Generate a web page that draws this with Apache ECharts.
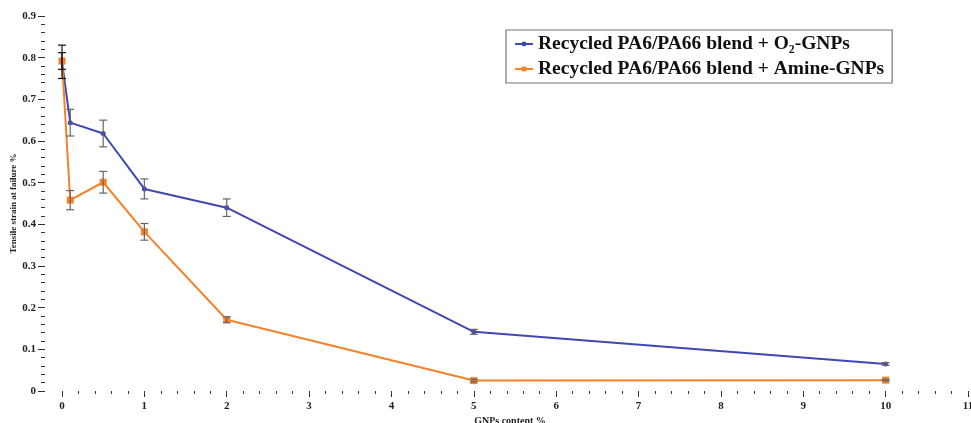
<!DOCTYPE html>
<html>
<head>
<meta charset="utf-8">
<script src="https://cdn.jsdelivr.net/npm/echarts@6/dist/echarts.min.js"></script>
<style>
html, body { margin: 0; padding: 0; background: #fff; }
#chart { width: 971px; height: 423px; }
</style>
</head>
<body>
<div id="chart"></div>
<script>
// GNPs content (%)
var gnpContent = [0, 0.1, 0.5, 1, 2, 5, 10];
// O2-GNPs series
var o2Strain = [0.79, 0.644, 0.618, 0.485, 0.44, 0.142, 0.065];
var o2Error = [0.04, 0.032, 0.032, 0.024, 0.021, 0.006, 0.003];
// Amine-GNPs series
var amineStrain = [0.792, 0.458, 0.501, 0.382, 0.171, 0.025, 0.026];
var amineError = [0.02, 0.023, 0.026, 0.02, 0.007, 0.003, 0.002];

var seriesNames = ['Recycled PA6/PA66 blend + O\u2082-GNPs', 'Recycled PA6/PA66 blend + Amine-GNPs'];
var blue = '#3f48b0';
var orange = '#f5812a';
var font = '"Liberation Serif", "Times New Roman", serif';

function pairs(xs, ys) {
	var out = [];
	for (var i = 0; i < xs.length; i++) out.push([xs[i], ys[i]]);
	return out;
}
function errData(xs, ys, es) {
	var out = [];
	for (var i = 0; i < xs.length; i++) out.push([xs[i], ys[i] - es[i], ys[i] + es[i]]);
	return out;
}

// draws vertical error bar with caps
function renderErr(params, api) {
	var lo = api.coord([api.value(0), api.value(1)]);
	var hi = api.coord([api.value(0), api.value(2)]);
	var w = 4;
	var col = params.dataIndex == 0 ? '#111' : '#666';
	var st = { stroke: col, lineWidth: 1.2 };
	return {
		type: 'group',
		children: [
			{ type: 'line', shape: { x1: lo[0], y1: lo[1], x2: hi[0], y2: hi[1] }, style: st },
			{ type: 'line', shape: { x1: lo[0] - w, y1: lo[1], x2: lo[0] + w, y2: lo[1] }, style: st },
			{ type: 'line', shape: { x1: hi[0] - w, y1: hi[1], x2: hi[0] + w, y2: hi[1] }, style: st }
		]
	};
}

var tickStyle = { color: '#333', width: 1 };

var chart = echarts.init(document.getElementById('chart'));
var option = {
	animation: false,
	textStyle: { fontFamily: font },
	grid: [
		// plot area
		{ left: 62, right: 3, top: 16, bottom: 32, outerBoundsMode: 'none' },
		// detached strip holding the y-axis ticks and labels
		{ left: 45, width: 1, top: 16, bottom: 32, outerBoundsMode: 'none' }
	],
	legend: {
		left: 506, top: 30,
		orient: 'vertical',
		data: seriesNames,
		borderColor: '#777', borderWidth: 1.2,
		padding: [4, 8, 4, 8],
		itemGap: 5,
		itemWidth: 18, itemHeight: 6,
		textStyle: { fontFamily: font, fontWeight: 'bold', fontSize: 19.5, color: '#111' }
	},
	xAxis: [
		{
			type: 'value', min: 0, max: 11, interval: 1,
			name: 'GNPs content %',
			nameLocation: 'middle', nameGap: 19,
			nameTextStyle: { fontFamily: font, fontWeight: 'bold', fontSize: 10, color: '#222', padding: [0, 10, 0, 0] },
			axisLine: { show: false },
			axisTick: { show: true, length: 6, lineStyle: tickStyle },
			minorTick: { show: true, splitNumber: 5, length: 3, lineStyle: tickStyle },
			splitLine: { show: false },
			axisLabel: { fontFamily: font, fontWeight: 'bold', fontSize: 11, color: '#222', margin: 10 }
		},
		{
			gridIndex: 1, type: 'value', min: 0, max: 1, show: false
		}
	],
	yAxis: [
		{
			type: 'value', min: 0, max: 0.9, interval: 0.1,
			axisLine: { show: false }, axisTick: { show: false },
			axisLabel: { show: false }, splitLine: { show: false }
		},
		{
			gridIndex: 1, type: 'value', min: 0, max: 0.9, interval: 0.1,
			name: 'Tensile strain at failure %',
			nameLocation: 'middle', nameGap: 27, nameRotate: 90,
			nameTextStyle: { fontFamily: font, fontWeight: 'bold', fontSize: 9, color: '#222' },
			axisLine: { show: false },
			axisTick: { show: true, length: 7, lineStyle: tickStyle },
			minorTick: { show: true, splitNumber: 5, length: 4, lineStyle: tickStyle },
			splitLine: { show: false },
			axisLabel: { fontFamily: font, fontWeight: 'bold', fontSize: 11, color: '#222', margin: 9 }
		}
	],
	series: [
		{
			name: seriesNames[0], type: 'line',
			data: pairs(gnpContent, o2Strain),
			symbol: 'circle', symbolSize: 5,
			lineStyle: { color: blue, width: 2 },
			itemStyle: { color: blue },
			z: 3
		},
		{
			name: seriesNames[1], type: 'line',
			data: pairs(gnpContent, amineStrain),
			symbol: 'rect', symbolSize: 7,
			lineStyle: { color: orange, width: 2 },
			itemStyle: { color: orange },
			z: 4
		},
		{
			type: 'custom', renderItem: renderErr,
			data: errData(gnpContent, o2Strain, o2Error),
			encode: { x: 0, y: [1, 2] }, z: 5
		},
		{
			type: 'custom', renderItem: renderErr,
			data: errData(gnpContent, amineStrain, amineError),
			encode: { x: 0, y: [1, 2] }, z: 5
		}
	]
};
chart.setOption(option);
</script>
</body>
</html>
